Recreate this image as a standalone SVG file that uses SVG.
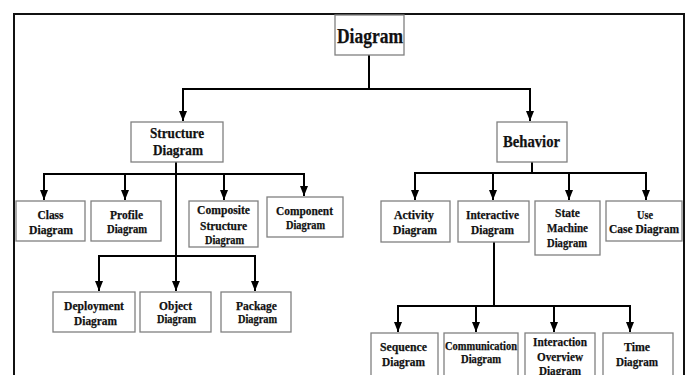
<svg xmlns="http://www.w3.org/2000/svg" width="687" height="375" viewBox="0 0 687 375">
  <style>
    .box { fill: #ffffff; stroke: #808080; stroke-width: 1.3; }
    .frame { fill: none; stroke: #111111; stroke-width: 2; }
    .wire { fill: none; stroke: #000000; stroke-width: 2; }
    .drop { fill: none; stroke: #000000; stroke-width: 2; marker-end: url(#arrow); }
    text { font-family: "Liberation Serif", "Times New Roman", serif; font-weight: bold; fill: #111111; stroke: #111111; stroke-width: 0.25; text-anchor: middle; }
    .t20 { font-size: 21px; }
    .t15 { font-size: 15px; }
    .t16 { font-size: 16px; }
    .t13 { font-size: 13px; }
    .t12 { font-size: 12px; }
  </style>
  <defs>
    <marker id="arrow" markerUnits="userSpaceOnUse" viewBox="0 0 10 8" refX="10" refY="4" markerWidth="10" markerHeight="8" orient="auto">
      <path d="M0,0 L10,4 L0,8 z" fill="#000000"/>
    </marker>
  </defs>

  <rect width="687" height="375" fill="#ffffff"/>
  <!-- outer frame, open at the bottom edge -->
  <path class="frame" d="M14,375 V14 H684 V375"/>

  <!-- connectors -->
  <g id="connectors">
    <path class="wire" d="M369,55 V89 M183,89 H530 M176,162 V174 M44,174 H304 M99,256 H255 M532,162 V173 M415,173 H646 M494,242 V306 M398,306 H630"/>
    <path class="drop" d="M183,88 V121"/>
    <path class="drop" d="M530,88 V121"/>
    <path class="drop" d="M44,173 V200"/>
    <path class="drop" d="M125,173 V200"/>
    <path class="drop" d="M224,173 V200"/>
    <path class="drop" d="M304,173 V196"/>
    <path class="drop" d="M176,173 V291"/>
    <path class="drop" d="M99,255 V291"/>
    <path class="drop" d="M255,255 V291"/>
    <path class="drop" d="M415,172 V200"/>
    <path class="drop" d="M493,172 V200"/>
    <path class="drop" d="M569,172 V200"/>
    <path class="drop" d="M646,172 V200"/>
    <path class="drop" d="M398,305 V332"/>
    <path class="drop" d="M476,305 V332"/>
    <path class="drop" d="M554,305 V332"/>
    <path class="drop" d="M630,305 V332"/>
  </g>

  <g id="diagram">
    <rect class="box" x="335" y="15" width="69" height="40"/>
    <text class="t20" x="370" y="43" textLength="66" lengthAdjust="spacingAndGlyphs">Diagram</text>
  </g>

  <g id="structure">
    <rect class="box" x="131" y="122" width="92" height="40"/>
    <text class="t15" x="177" y="138" textLength="54" lengthAdjust="spacingAndGlyphs">Structure</text>
    <text class="t15" x="178" y="155" textLength="50" lengthAdjust="spacingAndGlyphs">Diagram</text>
  </g>

  <g id="behavior">
    <rect class="box" x="497" y="122" width="70" height="40"/>
    <text class="t16" x="531.5" y="147" textLength="57" lengthAdjust="spacingAndGlyphs">Behavior</text>
  </g>

  <g id="class">
    <rect class="box" x="16" y="201" width="69" height="40"/>
    <text class="t13" x="50.5" y="219" textLength="26" lengthAdjust="spacingAndGlyphs">Class</text>
    <text class="t13" x="51" y="234" textLength="44" lengthAdjust="spacingAndGlyphs">Diagram</text>
  </g>

  <g id="profile">
    <rect class="box" x="91" y="201" width="70" height="40"/>
    <text class="t13" x="126.5" y="219" textLength="33" lengthAdjust="spacingAndGlyphs">Profile</text>
    <text class="t12" x="127" y="233" textLength="40" lengthAdjust="spacingAndGlyphs">Diagram</text>
  </g>

  <g id="composite">
    <rect class="box" x="189" y="201" width="69" height="46"/>
    <text class="t13" x="223.5" y="214" textLength="53" lengthAdjust="spacingAndGlyphs">Composite</text>
    <text class="t13" x="223.5" y="230" textLength="47" lengthAdjust="spacingAndGlyphs">Structure</text>
    <text class="t12" x="224.5" y="244" textLength="39" lengthAdjust="spacingAndGlyphs">Diagram</text>
  </g>

  <g id="component">
    <rect class="box" x="267" y="197" width="76" height="40"/>
    <text class="t13" x="304.5" y="215" textLength="57" lengthAdjust="spacingAndGlyphs">Component</text>
    <text class="t12" x="305.5" y="229" textLength="39" lengthAdjust="spacingAndGlyphs">Diagram</text>
  </g>

  <g id="deployment">
    <rect class="box" x="53" y="292" width="82" height="40"/>
    <text class="t13" x="94" y="310" textLength="60" lengthAdjust="spacingAndGlyphs">Deployment</text>
    <text class="t13" x="95.5" y="325" textLength="43" lengthAdjust="spacingAndGlyphs">Diagram</text>
  </g>

  <g id="object">
    <rect class="box" x="140" y="292" width="71" height="40"/>
    <text class="t13" x="175.5" y="310" textLength="33" lengthAdjust="spacingAndGlyphs">Object</text>
    <text class="t12" x="176.5" y="323" textLength="39" lengthAdjust="spacingAndGlyphs">Diagram</text>
  </g>

  <g id="package">
    <rect class="box" x="221" y="292" width="70" height="40"/>
    <text class="t13" x="256.5" y="310" textLength="41" lengthAdjust="spacingAndGlyphs">Package</text>
    <text class="t12" x="257.5" y="323" textLength="39" lengthAdjust="spacingAndGlyphs">Diagram</text>
  </g>

  <g id="activity">
    <rect class="box" x="381" y="201" width="69" height="41"/>
    <text class="t13" x="414" y="219" textLength="40" lengthAdjust="spacingAndGlyphs">Activity</text>
    <text class="t13" x="415" y="234" textLength="44" lengthAdjust="spacingAndGlyphs">Diagram</text>
  </g>

  <g id="interactive">
    <rect class="box" x="458" y="201" width="71" height="41"/>
    <text class="t13" x="492.5" y="219" textLength="53" lengthAdjust="spacingAndGlyphs">Interactive</text>
    <text class="t13" x="492.5" y="234" textLength="43" lengthAdjust="spacingAndGlyphs">Diagram</text>
  </g>

  <g id="state-machine">
    <rect class="box" x="535" y="201" width="65" height="54"/>
    <text class="t13" x="567.5" y="217" textLength="25" lengthAdjust="spacingAndGlyphs">State</text>
    <text class="t13" x="567.5" y="232" textLength="41" lengthAdjust="spacingAndGlyphs">Machine</text>
    <text class="t13" x="567" y="247" textLength="40" lengthAdjust="spacingAndGlyphs">Diagram</text>
  </g>

  <g id="use-case">
    <rect class="box" x="606" y="201" width="76" height="40"/>
    <text class="t13" x="645" y="219" textLength="16" lengthAdjust="spacingAndGlyphs">Use</text>
    <text class="t13" x="644" y="233" textLength="70" lengthAdjust="spacingAndGlyphs">Case Diagram</text>
  </g>

  <g id="sequence">
    <rect class="box" x="371" y="333" width="67" height="50"/>
    <text class="t13" x="403.5" y="351" textLength="47" lengthAdjust="spacingAndGlyphs">Sequence</text>
    <text class="t13" x="403.5" y="366" textLength="43" lengthAdjust="spacingAndGlyphs">Diagram</text>
  </g>

  <g id="communication">
    <rect class="box" x="444" y="333" width="74" height="50"/>
    <text class="t12" x="481" y="350" textLength="72" lengthAdjust="spacingAndGlyphs">Communication</text>
    <text class="t12" x="481" y="363" textLength="40" lengthAdjust="spacingAndGlyphs">Diagram</text>
  </g>

  <g id="interaction-overview">
    <rect class="box" x="525" y="333" width="70" height="50"/>
    <text class="t13" x="560" y="346" textLength="54" lengthAdjust="spacingAndGlyphs">Interaction</text>
    <text class="t13" x="560" y="361" textLength="46" lengthAdjust="spacingAndGlyphs">Overview</text>
    <text class="t13" x="560" y="375" textLength="42" lengthAdjust="spacingAndGlyphs">Diagram</text>
  </g>

  <g id="time">
    <rect class="box" x="603" y="333" width="70" height="50"/>
    <text class="t13" x="637" y="351" textLength="26" lengthAdjust="spacingAndGlyphs">Time</text>
    <text class="t13" x="637" y="366" textLength="42" lengthAdjust="spacingAndGlyphs">Diagram</text>
  </g>
</svg>
